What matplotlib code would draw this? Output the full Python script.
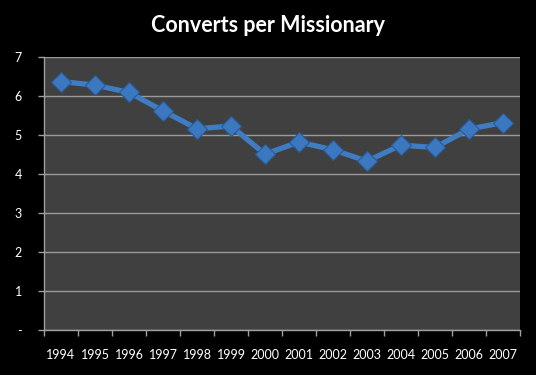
import matplotlib
matplotlib.use('Agg')
import matplotlib.pyplot as plt

years = ['1994', '1995', '1996', '1997', '1998', '1999', '2000',
         '2001', '2002', '2003', '2004', '2005', '2006', '2007']
converts = [6.37, 6.28, 6.09, 5.62, 5.16, 5.23, 4.51,
            4.82, 4.62, 4.33, 4.74, 4.68, 5.15, 5.32]
ytick_vals = [0, 1, 2, 3, 4, 5, 6, 7]
ytick_labels = ['-', '1', '2', '3', '4', '5', '6', '7']

plt.rcParams['font.family'] = ['Lato', 'DejaVu Sans']

fig = plt.figure(figsize=(5.36, 3.75), dpi=100, facecolor='black')
ax = fig.add_axes([44/536, 1 - 330/375, 476/536, 273/375])
ax.set_facecolor('#404040')

x = list(range(len(years)))
ax.plot(x, converts, color='#3f7cc2', lw=3.8, zorder=3,
        marker='D', markersize=10, markerfacecolor='#3b78c0',
        markeredgecolor='#2a5a96', markeredgewidth=0.8)

ax.set_xlim(-0.5, len(years) - 0.5)
ax.set_ylim(0, 7)
ax.set_yticks(ytick_vals)
ax.set_yticklabels(ytick_labels)
ax.set_xticks(x)
ax.set_xticklabels(years)
# category boundaries get the tick marks, like Excel
ax.set_xticks([i - 0.5 for i in range(len(years) + 1)], minor=True)
ax.tick_params(axis='x', which='major', length=0, pad=14, labelcolor='white', labelsize=9)
ax.tick_params(axis='x', which='minor', length=4, color='#a0a0a0', width=1)
ax.tick_params(axis='y', length=4, color='#a0a0a0', width=1, pad=12,
               labelcolor='white', labelsize=9)

ax.grid(axis='y', color='#9a9a9a', lw=1)
ax.set_axisbelow(True)
for s in ['top', 'right']:
    ax.spines[s].set_visible(False)
for s in ['left', 'bottom']:
    ax.spines[s].set_color('#a0a0a0')
    ax.spines[s].set_linewidth(1)

fig.text(0.5, 1 - 26/375, 'Converts per Missionary', color='white',
         fontsize=15.5, fontweight='bold', ha='center', va='center')

fig.savefig('out.png', dpi=100, facecolor='black')
